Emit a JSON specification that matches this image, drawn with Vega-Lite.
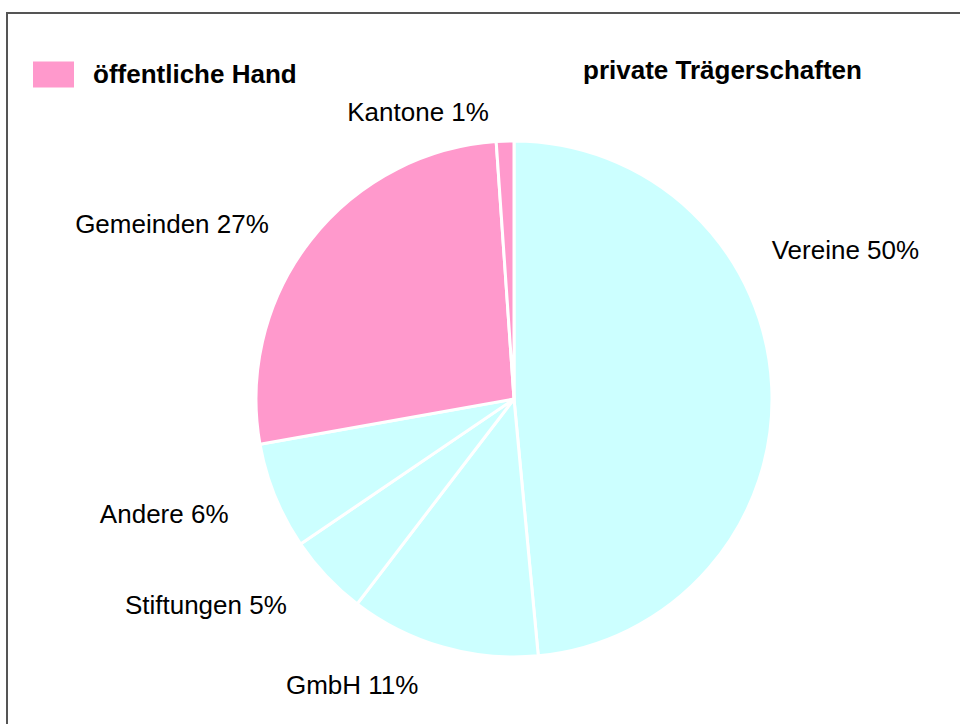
{
  "$schema": "https://vega.github.io/schema/vega-lite/v6.json",
  "width": 1014,
  "height": 772,
  "autosize": {"type": "none"},
  "padding": {"left": 7, "top": 13, "right": 0, "bottom": 0},
  "background": "white",
  "view": {"stroke": "#555555", "strokeWidth": 2},
  "data": {
    "values": [
      {"kategorie": "Vereine", "label": "Vereine 50%", "traeger": "private Trägerschaften", "anteil": 48.5, "reihenfolge": 1},
      {"kategorie": "GmbH", "label": "GmbH 11%", "traeger": "private Trägerschaften", "anteil": 11.9, "reihenfolge": 2},
      {"kategorie": "Stiftungen", "label": "Stiftungen 5%", "traeger": "private Trägerschaften", "anteil": 5.1, "reihenfolge": 3},
      {"kategorie": "Andere", "label": "Andere 6%", "traeger": "private Trägerschaften", "anteil": 6.7, "reihenfolge": 4},
      {"kategorie": "Gemeinden", "label": "Gemeinden 27%", "traeger": "öffentliche Hand", "anteil": 26.7, "reihenfolge": 5},
      {"kategorie": "Kantone", "label": "Kantone 1%", "traeger": "öffentliche Hand", "anteil": 1.1, "reihenfolge": 6}
    ]
  },
  "encoding": {
    "theta": {"field": "anteil", "type": "quantitative", "stack": true},
    "order": {"field": "reihenfolge", "type": "quantitative", "sort": "ascending"}
  },
  "layer": [
    {
      "mark": {"type": "arc", "outerRadius": 258, "stroke": "white", "strokeWidth": 3},
      "encoding": {
        "color": {
          "field": "traeger",
          "type": "nominal",
          "scale": {"domain": ["öffentliche Hand", "private Trägerschaften"], "range": ["#FF99CC", "#CCFFFF"]},
          "legend": {
            "orient": "none",
            "legendX": 26,
            "legendY": 41,
            "direction": "horizontal",
            "values": ["öffentliche Hand"],
            "title": "private Trägerschaften",
            "titleOrient": "right",
            "titleAnchor": "middle",
            "titleBaseline": "middle",
            "titlePadding": 286,
            "titleFont": "Liberation Sans",
            "titleFontSize": 26,
            "titleFontWeight": "bold",
            "titleColor": "black",
            "titleLimit": 500,
            "symbolType": "M-1,-0.63H1V0.63H-1Z",
            "symbolSize": 1681,
            "symbolStrokeWidth": 0,
            "labelFont": "Liberation Sans",
            "labelFontSize": 26,
            "labelFontWeight": "bold",
            "labelColor": "black",
            "labelOffset": 19,
            "labelLimit": 500
          }
        }
      }
    },
    {
      "mark": {"type": "text", "radius": 292, "align": "right", "baseline": "middle", "font": "Liberation Sans", "fontSize": 26, "color": "black", "dx": -15, "dy": 6},
      "encoding": {
        "detail": {"field": "kategorie", "type": "nominal"},
        "text": {"condition": {"test": "datum.kategorie !== 'Vereine'", "field": "label"}, "value": ""}
      }
    },
    {
      "mark": {"type": "text", "radius": 258, "align": "left", "baseline": "middle", "font": "Liberation Sans", "fontSize": 26, "color": "black", "dy": -136},
      "encoding": {
        "detail": {"field": "kategorie", "type": "nominal"},
        "text": {"condition": {"test": "datum.kategorie === 'Vereine'", "field": "label"}, "value": ""}
      }
    }
  ]
}
